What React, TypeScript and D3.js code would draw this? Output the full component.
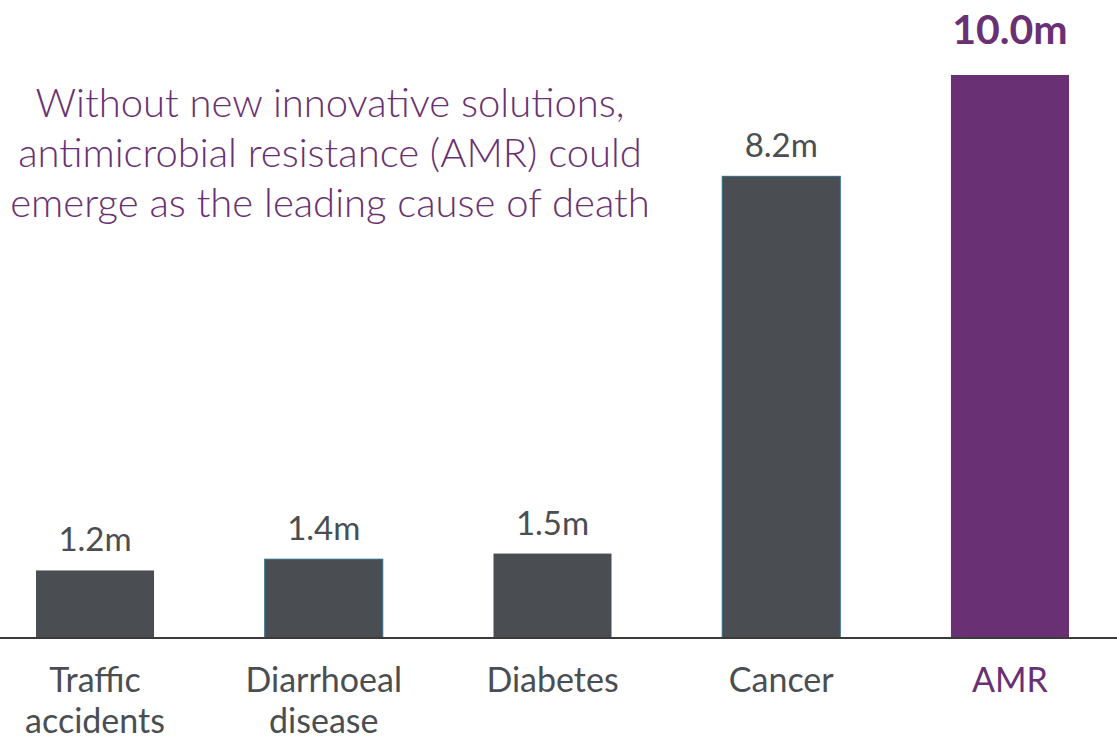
import * as React from "react";
import * as d3 from "d3";

const categories = ["Traffic accidents", "Diarrhoeal disease", "Diabetes", "Cancer", "AMR"];
const labelLines = [["Traffic", "accidents"], ["Diarrhoeal", "disease"], ["Diabetes"], ["Cancer"], ["AMR"]];
const deaths = [1.2, 1.4, 1.5, 8.2, 10.0];
const valueLabels = ["1.2m", "1.4m", "1.5m", "8.2m", "10.0m"];
const titleLines = [
  "Without new innovative solutions,",
  "antimicrobial resistance (AMR) could",
  "emerge as the leading cause of death",
];

const width = 1117;
const height = 741;
const baseY = 638;
const grey = "#4a4e53";
const purple = "#693074";
const font = "'Source Sans Pro', Lato, 'Open Sans', sans-serif";

const App: React.FC = () => {
  const x = d3.scaleBand<string>().domain(categories).range([36, 1069]).paddingInner(0.484).paddingOuter(0);
  const y = d3.scaleLinear().domain([0, 10]).range([baseY, 75]);

  return (
    <svg width={width} height={height} style={{ position: "absolute", left: 0, top: 0 }} fontFamily={font}>
      <rect width={width} height={height} fill="#fff" />
      {categories.map((c, i) => {
        const isAmr = c === "AMR";
        const outlined = c === "Diarrhoeal disease" || c === "Cancer";
        const cx = (x(c) ?? 0) + x.bandwidth() / 2;
        return (
          <g key={c}>
            <rect
              x={x(c)}
              y={y(deaths[i])}
              width={x.bandwidth()}
              height={baseY - y(deaths[i])}
              fill={isAmr ? purple : grey}
              stroke={outlined ? "#2f6a86" : "none"}
              strokeWidth={1}
            />
            <text
              x={cx}
              y={y(deaths[i]) - (isAmr ? 31 : 19)}
              textAnchor="middle"
              fontSize={isAmr ? 41 : 33}
              fontWeight={isAmr ? 700 : 400}
              fill={isAmr ? purple : grey}
            >
              {valueLabels[i]}
            </text>
            {labelLines[i].map((l, j) => (
              <text
                key={l}
                x={cx}
                y={692 + j * 41}
                textAnchor="middle"
                fontSize={34}
                fill={isAmr ? purple : grey}
              >
                {l}
              </text>
            ))}
          </g>
        );
      })}
      <line x1={0} x2={width} y1={baseY} y2={baseY} stroke="#3a3a3a" strokeWidth={2} />
      {titleLines.map((t, i) => (
        <text key={t} x={330} y={117 + i * 50} textAnchor="middle" fontSize={40} fontWeight={300} fill={purple}>
          {t}
        </text>
      ))}
    </svg>
  );
};

export default App;
